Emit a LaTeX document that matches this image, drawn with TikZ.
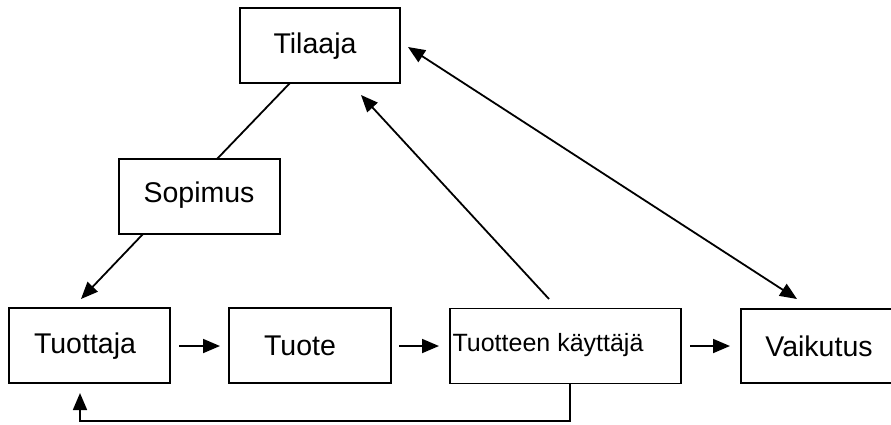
\documentclass[tikz,border=0pt]{standalone}
\usepackage{fontspec}
\setmainfont{Liberation Sans}
\usetikzlibrary{arrows.meta}
\begin{document}
\begin{tikzpicture}[x=1pt,y=-1pt,
  box/.style={draw,line width=1.8pt,rectangle,inner sep=0pt},
  txt/.style={font=\fontsize{28.5}{30}\selectfont,inner sep=0pt},
  smalltxt/.style={font=\fontsize{25}{27}\selectfont,inner sep=0pt},
  conn/.style={line width=1.8pt},
  arr/.style={conn,-{Triangle[length=17pt,width=14pt]}},
  darr/.style={conn,{Triangle[length=17pt,width=14pt]}-{Triangle[length=17pt,width=14pt]}}]
\clip (0,0) rectangle (891,424);
\fill[white] (0,0) rectangle (891,424);
% boxes
\node[box,minimum width=160pt,minimum height=75pt] (tilaaja) at (320,45.5) {};
\node[box,minimum width=161pt,minimum height=75pt] (sopimus) at (199.5,196.5) {};
\node[box,minimum width=161pt,minimum height=75pt] (tuottaja) at (89.5,345.5) {};
\node[box,minimum width=162pt,minimum height=75pt] (tuote) at (310,345.5) {};
\node[box,minimum width=231pt,minimum height=75pt] (kayttaja) at (565.5,346) {};
\node[box,minimum width=160pt,minimum height=74pt] (vaikutus) at (821,346) {};
% texts
\node[txt] (tTilaaja) at (315,46.5) {Tilaaja};
\node[txt] (tSopimus) at (199,195) {Sopimus};
\node[txt] (tTuottaja) at (85,346) {Tuottaja};
\node[txt] (tTuote) at (300,346) {Tuote};
\node[smalltxt] (tKayttaja) at (548,345.5) {Tuotteen käyttäjä};
\node[txt] (tVaikutus) at (819,346) {Vaikutus};
% free ends
\coordinate (c1) at (290,83);
\coordinate (c2) at (217,159);
\coordinate (c3) at (143,234);
\coordinate (c4) at (81,299);
\coordinate (a1s) at (179,346);
\coordinate (a1e) at (220,346);
\coordinate (a2s) at (399,346);
\coordinate (a2e) at (439,346);
\coordinate (a3s) at (690,346);
\coordinate (a3e) at (730,346);
\coordinate (k1) at (549,299);
\coordinate (k2) at (361,95);
\coordinate (d1) at (408,47);
\coordinate (d2) at (797,299);
\coordinate (f1) at (570,384);
\coordinate (f2) at (570,421);
\coordinate (f3) at (80,421);
\coordinate (f4) at (80,393);
% connectors
\draw[conn] (c1) -- (c2);
\draw[arr] (c3) -- (c4);
\draw[arr] (a1s) -- (a1e);
\draw[arr] (a2s) -- (a2e);
\draw[arr] (a3s) -- (a3e);
\draw[arr] (k1) -- (k2);
\draw[darr] (d1) -- (d2);
\draw[arr] (f1) -- (f2) -- (f3) -- (f4);
\end{tikzpicture}
\end{document}
